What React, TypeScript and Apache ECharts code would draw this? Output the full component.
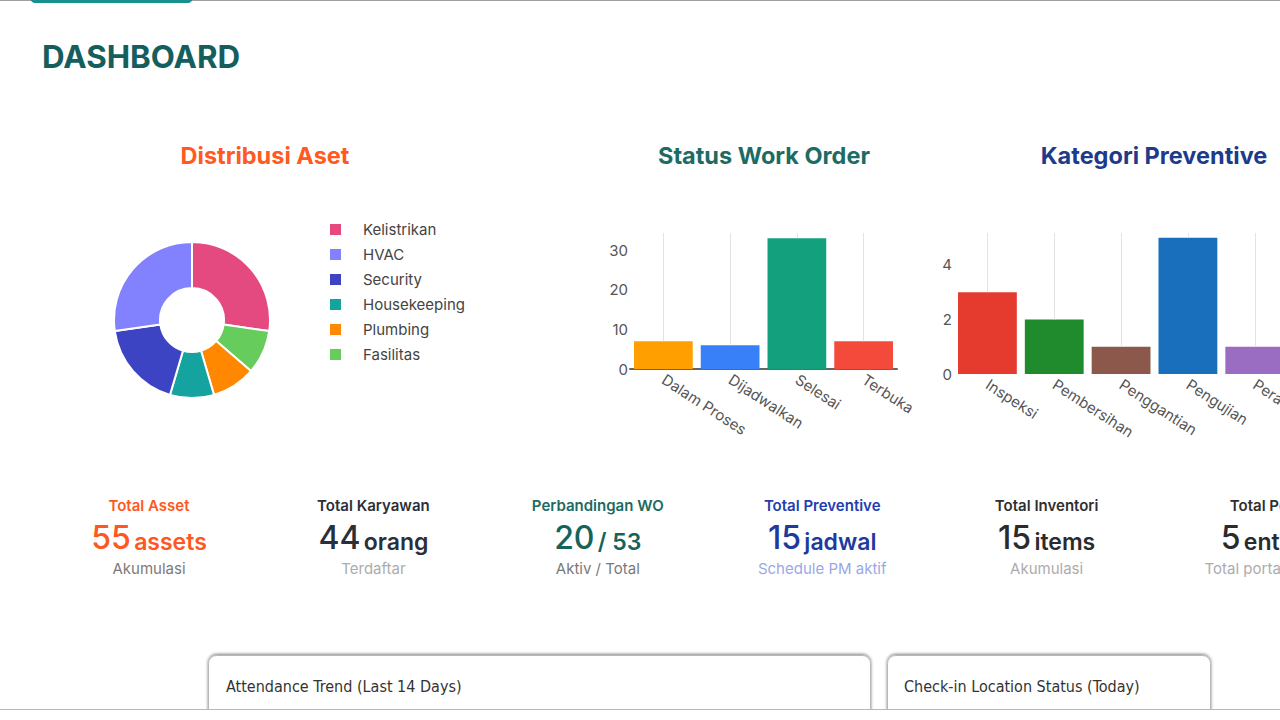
import { useEffect, useRef } from 'react';
import * as echarts from 'echarts';

const FONT = 'Inter, "Noto Sans", sans-serif';
const CARD_FONT = '"Liberation Sans Narrow", "DejaVu Sans Condensed", "Noto Sans", sans-serif';

// Asset distribution (legend order)
const assetCats = ['Kelistrikan', 'HVAC', 'Security', 'Housekeeping', 'Plumbing', 'Fasilitas'];
const assetValues = [15, 15, 10, 5, 5, 5];
const assetColors = ['#e4497f', '#8282ff', '#3d44c4', '#14a39f', '#ff8800', '#66cc5c'];
// Order of the slices clockwise from the top of the ring
const ringOrder = ['Kelistrikan', 'Fasilitas', 'Plumbing', 'Housekeeping', 'Security', 'HVAC'];

// Work order status
const statusCats = ['Dalam Proses', 'Dijadwalkan', 'Selesai', 'Terbuka'];
const statusValues = [7, 6, 33, 7];
const statusColors = ['#ffa000', '#3880f8', '#12a17c', '#f44a3b'];
const statusTicks = [0, 10, 20, 30];

// Preventive maintenance categories
const prevCats = ['Inspeksi', 'Pembersihan', 'Penggantian', 'Pengujian', 'Perawatan', 'Perbaikan'];
const prevValues = [3, 2, 1, 5, 1, 3];
const prevColors = ['#e53b2f', '#1f8b2d', '#8c584b', '#1a6fbd', '#9a6cc2', '#ff8c1a'];
const prevTicks = [0, 2, 4];

// Summary figures
const statLabels = ['Total Asset', 'Total Karyawan', 'Perbandingan WO', 'Total Preventive', 'Total Inventori', 'Total Portal'];
const statNumbers = ['55', '44', '20', '15', '15', '5'];
const statUnits = ['assets', 'orang', '/ 53', 'jadwal', 'items', 'entries'];
const statSubs = ['Akumulasi', 'Terdaftar', 'Aktiv / Total', 'Schedule PM aktif', 'Akumulasi', 'Total portal entries'];
const statLabelColors = ['#ff5722', '#2b2f3a', '#1d6b5f', '#1e40af', '#2f2f2f', '#2f2f2f'];
const statValueColors = ['#ff5722', '#2b2f3a', '#16635a', '#1e3a9c', '#2b2b2b', '#2b2b2b'];
const statSubColors = ['#7a7a7a', '#acacac', '#7a7a7a', '#9aa8e6', '#acacac', '#acacac'];

const cardTitles = ['Attendance Trend (Last 14 Days)', 'Check-in Location Status (Today)'];

const STATUS_MAX = 34.3;
const PREV_MAX = 5.17;

function barAxes(cats: string[], gridIndex: number, max: number, ticks: number[], interval: number, showLine: boolean) {
  const x = {
    type: 'category',
    gridIndex,
    data: cats,
    axisTick: { show: false },
    axisLine: { show: showLine, lineStyle: { color: '#666', width: 2 } },
    axisLabel: { rotate: -33, fontSize: 15, color: '#555', fontFamily: FONT, margin: 9, interval: 0 },
    splitLine: { show: false },
  };
  const y = {
    type: 'value',
    gridIndex,
    min: 0,
    max,
    interval,
    axisLine: { show: false },
    axisTick: { show: false },
    splitLine: { show: false },
    axisLabel: {
      fontSize: 15,
      color: '#555',
      fontFamily: FONT,
      margin: 2,
      formatter: (v: number) => (ticks.includes(v) ? String(v) : ''),
    },
  };
  return { x, y };
}

function barSeries(cats: string[], values: number[], colors: string[], idx: number, max: number) {
  return {
    type: 'bar',
    xAxisIndex: idx,
    yAxisIndex: idx,
    barCategoryGap: '12%',
    silent: true,
    data: values.map((v, i) => ({ value: v, itemStyle: { color: colors[i] } })),
    markLine: {
      silent: true,
      symbol: 'none',
      label: { show: false },
      lineStyle: { color: '#e3e3e3', type: 'solid', width: 1 },
      data: cats.map((c, i) => [{ coord: [c, values[i]] }, { coord: [c, max] }]),
    },
  };
}

function text(x: number, y: number, t: string, size: number, weight: any, fill: string, align = 'center', family = FONT) {
  return {
    type: 'text',
    x,
    y,
    silent: true,
    style: { text: t, fontSize: size, fontWeight: weight, fontFamily: family, fill, align, verticalAlign: 'middle' },
  };
}

export default function App() {
  const ref = useRef<HTMLDivElement>(null);

  useEffect(() => {
    const chart = echarts.init(ref.current!, null, { renderer: 'svg', width: 1280, height: 720 });

    const st = barAxes(statusCats, 0, STATUS_MAX, statusTicks, 10, true);
    const pv = barAxes(prevCats, 1, PREV_MAX, prevTicks, 2, false);

    const statCols = statLabels.map((_, i) => 149 + i * 224.4);
    const statGraphics: any[] = [];
    statCols.forEach((cx, i) => {
      statGraphics.push(text(cx, 505, statLabels[i], 15, 600, statLabelColors[i]));
      statGraphics.push({
        type: 'text',
        x: cx,
        y: 535,
        silent: true,
        style: {
          text: `{n|${statNumbers[i]}} {u|${statUnits[i]}}`,
          align: 'center',
          verticalAlign: 'middle',
          rich: {
            n: { fontSize: 32, fontWeight: 500, fontFamily: FONT, fill: statValueColors[i], verticalAlign: 'bottom', lineHeight: 36 },
            u: { fontSize: 23, fontWeight: 600, fontFamily: FONT, fill: statValueColors[i], verticalAlign: 'bottom', lineHeight: 36 },
          },
        },
      });
      statGraphics.push(text(cx, 568, statSubs[i], 15, 400, statSubColors[i]));
    });

    const option: any = {
      animation: false,
      backgroundColor: '#ffffff',
      legend: {
        data: assetCats,
        orient: 'vertical',
        left: 323,
        top: 217,
        itemWidth: 13,
        itemHeight: 13,
        itemGap: 10,
        icon: 'rect',
        selectedMode: false,
        textStyle: { fontSize: 15, color: '#444', fontFamily: FONT, padding: [0, 0, 0, 16] },
      },
      grid: [
        { left: 630, width: 267, top: 233, bottom: 351, outerBoundsMode: 'none' },
        { left: 954, width: 401, top: 233, bottom: 346, outerBoundsMode: 'none' },
      ],
      xAxis: [st.x, pv.x],
      yAxis: [st.y, pv.y],
      series: [
        {
          type: 'pie',
          center: [192, 320],
          radius: [32, 78],
          startAngle: 90,
          clockwise: true,
          silent: true,
          label: { show: false },
          labelLine: { show: false },
          itemStyle: { borderColor: '#ffffff', borderWidth: 2 },
          data: ringOrder.map((n) => {
            const i = assetCats.indexOf(n);
            return { name: n, value: assetValues[i], itemStyle: { color: assetColors[i] } };
          }),
        },
        barSeries(statusCats, statusValues, statusColors, 0, STATUS_MAX),
        barSeries(prevCats, prevValues, prevColors, 1, PREV_MAX),
      ],
      graphic: [
        { type: 'line', silent: true, shape: { x1: 0, y1: 0.5, x2: 1280, y2: 0.5 }, style: { stroke: '#a0a0a0', lineWidth: 1 } },
        { type: 'rect', silent: true, shape: { x: 30, y: -8, width: 163, height: 11, r: 6 }, style: { fill: '#17918f' } },
        text(42, 57, 'DASHBOARD', 31.3, 700, '#155e5e', 'left'),
        text(265, 155, 'Distribusi Aset', 23.5, 700, '#ff5a1f'),
        text(764, 155, 'Status Work Order', 23.5, 700, '#1d6b63'),
        text(1154, 155, 'Kategori Preventive', 23.5, 700, '#1e3a8a'),
        ...statGraphics,
        {
          type: 'rect',
          silent: true,
          shape: { x: 208.5, y: 655.5, width: 662, height: 90, r: 8 },
          style: { fill: '#fff', stroke: '#b8b8b8', lineWidth: 1, shadowBlur: 3, shadowColor: 'rgba(0,0,0,0.5)', shadowOffsetY: -1 },
        },
        {
          type: 'rect',
          silent: true,
          shape: { x: 887.5, y: 655.5, width: 323, height: 90, r: 8 },
          style: { fill: '#fff', stroke: '#b8b8b8', lineWidth: 1, shadowBlur: 3, shadowColor: 'rgba(0,0,0,0.5)', shadowOffsetY: -1 },
        },
        text(226, 686, cardTitles[0], 16, 400, '#333', 'left', CARD_FONT),
        text(904, 686, cardTitles[1], 16, 400, '#333', 'left', CARD_FONT),
        { type: 'rect', silent: true, shape: { x: 0, y: 709, width: 1280, height: 11 }, style: { fill: '#fff' } },
        { type: 'line', silent: true, shape: { x1: 0, y1: 709.5, x2: 1280, y2: 709.5 }, style: { stroke: '#b8b8b8', lineWidth: 1 } },
      ],
    };

    chart.setOption(option);
    return () => chart.dispose();
  }, []);

  return (
    <div
      ref={ref}
      style={{ position: 'fixed', left: 0, top: 0, width: 1280, height: 720, background: '#fff' }}
    />
  );
}
